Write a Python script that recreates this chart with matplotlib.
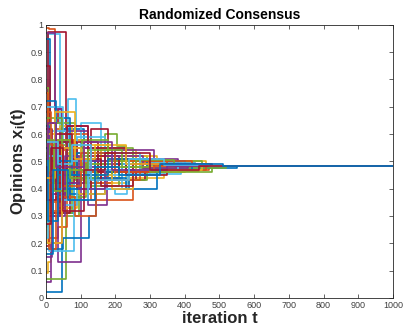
import matplotlib
matplotlib.use("Agg")
import matplotlib.pyplot as plt

# step-wise opinion trajectories, grouped by MATLAB line colour
# each agent: jump times and the opinion value held from that time on
t_end = 1000

blue_t = [[0, 45, 80, 150, 260, 420], [0, 12, 40, 110, 230, 380],
          [0, 50, 125, 145, 240, 350, 470], [0, 8, 60, 140, 230, 330, 480],
          [0, 25, 70, 170, 290, 400], [0, 15, 90, 200, 300, 550],
          [0, 30, 100, 230, 320, 450], [0, 5, 35, 75, 180, 300, 420],
          [0, 20, 65, 140, 210, 330, 510]]
blue_x = [[0.02, 0.31, 0.42, 0.47, 0.49, 0.482], [0.95, 0.55, 0.62, 0.50, 0.47, 0.482],
          [0.18, 0.22, 0.30, 0.40, 0.46, 0.49, 0.482], [0.63, 0.57, 0.44, 0.52, 0.47, 0.485, 0.482],
          [0.47, 0.66, 0.38, 0.46, 0.50, 0.482], [0.35, 0.45, 0.53, 0.49, 0.475, 0.482],
          [0.72, 0.40, 0.44, 0.40, 0.47, 0.482], [0.55, 0.28, 0.50, 0.45, 0.51, 0.47, 0.482],
          [0.16, 0.47, 0.36, 0.48, 0.45, 0.49, 0.482]]

orange_t = [[0, 10, 25, 60, 140, 280, 430], [0, 35, 60, 130, 250, 400],
            [0, 5, 40, 120, 210, 330, 470], [0, 20, 70, 160, 260, 380, 440],
            [0, 12, 55, 115, 190, 300, 400], [0, 28, 80, 180, 270, 420],
            [0, 8, 30, 85, 145, 240, 350, 460], [0, 15, 50, 100, 200, 310]]
orange_x = [[0.99, 0.985, 0.62, 0.50, 0.47, 0.495, 0.482], [0.22, 0.26, 0.45, 0.36, 0.47, 0.482],
            [0.75, 0.35, 0.60, 0.46, 0.51, 0.47, 0.482], [0.30, 0.54, 0.44, 0.52, 0.48, 0.465, 0.482],
            [0.55, 0.32, 0.50, 0.42, 0.49, 0.475, 0.482], [0.42, 0.58, 0.47, 0.43, 0.50, 0.482],
            [0.46, 0.18, 0.37, 0.30, 0.43, 0.50, 0.47, 0.482], [0.68, 0.56, 0.41, 0.53, 0.46, 0.482]]

yellow_t = [[0, 5, 15, 55, 150, 240, 360], [0, 10, 35, 90, 180, 290, 440],
            [0, 20, 65, 130, 230, 340, 460], [0, 40, 75, 160, 260, 380],
            [0, 8, 50, 110, 200, 320, 420], [0, 30, 95, 170, 280, 400],
            [0, 3, 45, 100, 190, 250, 370], [0, 25, 85, 140, 230, 330, 450]]
yellow_x = [[0.09, 0.13, 0.36, 0.49, 0.42, 0.47, 0.482], [0.75, 0.54, 0.33, 0.56, 0.51, 0.48, 0.482],
            [0.50, 0.44, 0.53, 0.47, 0.44, 0.50, 0.482], [0.38, 0.63, 0.45, 0.54, 0.47, 0.482],
            [0.25, 0.40, 0.58, 0.43, 0.52, 0.478, 0.482], [0.60, 0.47, 0.38, 0.50, 0.46, 0.482],
            [0.53, 0.20, 0.55, 0.45, 0.40, 0.48, 0.482], [0.44, 0.68, 0.51, 0.56, 0.49, 0.47, 0.482]]

purple_t = [[0, 15, 45, 90, 160, 250, 390], [0, 35, 100, 150, 260, 400],
            [0, 25, 47, 100, 220, 330], [0, 40, 120, 175, 270, 380],
            [0, 10, 60, 120, 200, 310, 420], [0, 55, 110, 210, 300, 460],
            [0, 18, 55, 95, 170, 280, 410], [0, 6, 30, 110, 190, 350]]
purple_x = [[0.06, 0.20, 0.45, 0.55, 0.47, 0.50, 0.482], [0.40, 0.13, 0.55, 0.46, 0.49, 0.482],
            [0.97, 0.69, 0.58, 0.44, 0.48, 0.482], [0.45, 0.61, 0.34, 0.46, 0.51, 0.482],
            [0.62, 0.50, 0.63, 0.48, 0.54, 0.47, 0.482], [0.30, 0.42, 0.50, 0.46, 0.49, 0.482],
            [0.15, 0.38, 0.52, 0.40, 0.52, 0.475, 0.482], [0.51, 0.64, 0.48, 0.57, 0.47, 0.482]]

green_t = [[0, 57, 95, 140, 230, 380], [0, 8, 40, 170, 205, 230, 290, 430],
           [0, 20, 75, 130, 210, 320, 450], [0, 30, 85, 150, 250, 350],
           [0, 12, 60, 115, 190, 290, 400], [0, 45, 105, 180, 275, 520],
           [0, 4, 35, 70, 145, 260, 370], [0, 22, 62, 120, 220, 300, 480]]
green_x = [[0.07, 0.30, 0.46, 0.50, 0.47, 0.482], [0.77, 0.50, 0.45, 0.60, 0.555, 0.52, 0.485, 0.482],
           [0.40, 0.31, 0.52, 0.41, 0.46, 0.50, 0.482], [0.55, 0.64, 0.43, 0.55, 0.49, 0.482],
           [0.33, 0.56, 0.37, 0.49, 0.43, 0.47, 0.482], [0.66, 0.48, 0.58, 0.50, 0.475, 0.482],
           [0.26, 0.42, 0.58, 0.44, 0.48, 0.505, 0.482], [0.58, 0.39, 0.47, 0.54, 0.48, 0.46, 0.482]]

lightblue_t = [[0, 5, 40, 63, 88, 140, 250, 380], [0, 10, 80, 150, 240, 360],
               [0, 30, 100, 160, 260, 410], [0, 20, 70, 200, 235, 390, 500],
               [0, 50, 90, 170, 300, 430], [0, 15, 60, 125, 220, 340],
               [0, 7, 45, 120, 190, 270, 380], [0, 35, 75, 130, 240, 340, 470]]
lightblue_x = [[0.58, 0.965, 0.55, 0.73, 0.48, 0.53, 0.48, 0.482], [0.60, 0.17, 0.42, 0.50, 0.46, 0.482],
               [0.52, 0.46, 0.64, 0.50, 0.47, 0.482], [0.36, 0.44, 0.40, 0.38, 0.455, 0.48, 0.482],
               [0.70, 0.34, 0.59, 0.45, 0.495, 0.482], [0.45, 0.61, 0.50, 0.40, 0.49, 0.482],
               [0.22, 0.52, 0.36, 0.47, 0.53, 0.47, 0.482], [0.57, 0.49, 0.56, 0.43, 0.51, 0.485, 0.482]]

darkred_t = [[0, 5, 57, 90, 150, 260, 400], [0, 12, 35, 47, 100, 200, 320],
             [0, 8, 70, 130, 180, 280, 420], [0, 25, 80, 150, 260, 285, 380],
             [0, 40, 90, 130, 230, 350, 480], [0, 18, 60, 120, 210, 330],
             [0, 3, 28, 75, 160, 250, 370], [0, 14, 50, 110, 170, 300, 440]]
darkred_x = [[0.35, 0.975, 0.45, 0.53, 0.49, 0.47, 0.482], [0.85, 0.64, 0.69, 0.55, 0.47, 0.51, 0.482],
             [0.19, 0.31, 0.44, 0.62, 0.50, 0.475, 0.482], [0.52, 0.42, 0.57, 0.46, 0.43, 0.47, 0.482],
             [0.30, 0.57, 0.40, 0.55, 0.45, 0.49, 0.482], [0.62, 0.47, 0.63, 0.52, 0.46, 0.482],
             [0.48, 0.36, 0.60, 0.51, 0.41, 0.49, 0.482], [0.27, 0.55, 0.32, 0.47, 0.53, 0.47, 0.482]]

colors = ["#0072BD", "#D95319", "#EDB120", "#7E2F8E", "#77AC30", "#4DBEEE", "#A2142F"]
groups = [(blue_t, blue_x), (orange_t, orange_x), (yellow_t, yellow_x),
          (purple_t, purple_x), (green_t, green_x), (lightblue_t, lightblue_x),
          (darkred_t, darkred_x)]

plt.rcParams["font.family"] = ["Liberation Sans", "DejaVu Sans"]
plt.rcParams["mathtext.fontset"] = "custom"
plt.rcParams["mathtext.rm"] = "Liberation Sans:bold"
plt.rcParams["mathtext.it"] = "Liberation Sans:bold"
plt.rcParams["mathtext.bf"] = "Liberation Sans:bold"

fig = plt.figure(figsize=(4.03, 3.27), dpi=100)
ax = fig.add_axes([0.114, 0.089, 0.861, 0.835])

# draw in MATLAB colour-cycle order so the last one (blue) ends on top
order = []
for i in range(8):
    for c in range(7):
        order.append((c, i))
order.append((0, 8))
for c, i in order:
    ts, xs = groups[c]
    t = ts[i] + [t_end]
    x = xs[i] + [xs[i][-1]]
    ax.plot(t, x, drawstyle="steps-post", color=colors[c], lw=1.2)

ax.set_xlim(0, 1000)
ax.set_ylim(0, 1)
ax.set_xticks(range(0, 1001, 100))
ax.set_yticks([i / 10 for i in range(11)])
ax.set_yticklabels(["0", "0.1", "0.2", "0.3", "0.4", "0.5", "0.6", "0.7", "0.8", "0.9", "1"])
ax.tick_params(direction="in", top=True, right=True, length=3, width=0.5,
               labelsize=6.5, color="#262626", labelcolor="#404040", pad=2)
for s in ax.spines.values():
    s.set_linewidth(0.6)
    s.set_color("#262626")

ax.set_title("Randomized Consensus", fontsize=10, fontweight="bold", pad=4)
ax.set_xlabel("iteration t", fontsize=12, fontweight="bold", color="#262626", labelpad=1)
ax.set_ylabel("Opinions x$_\\mathrm{i}$(t)", fontsize=12, fontweight="bold",
              color="#262626", labelpad=2)

fig.savefig("out.png", dpi=100)
